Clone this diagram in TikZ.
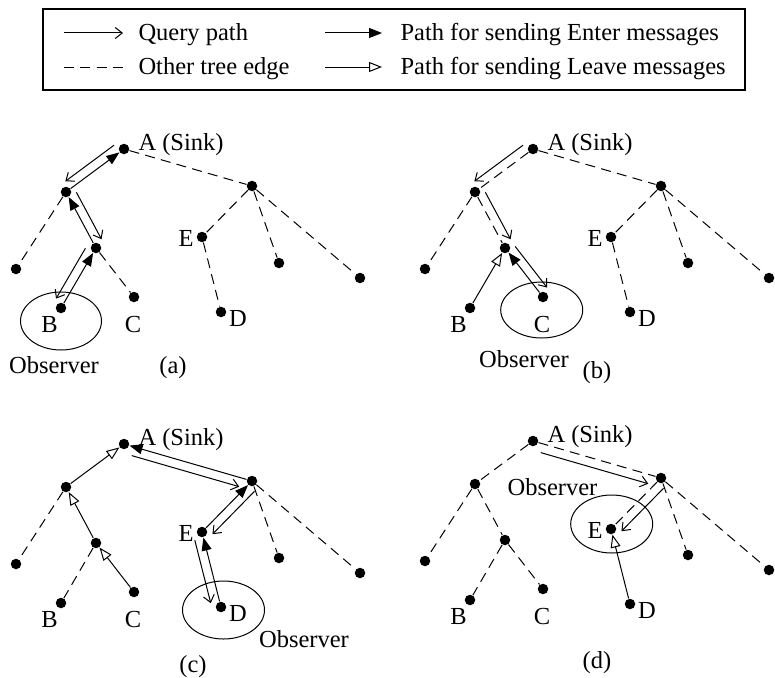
\documentclass[tikz,border=0pt]{standalone}
\usepackage{fontspec}
\setmainfont{Liberation Serif}
\usetikzlibrary{calc,arrows.meta}

% query path drawn beside a tree edge
\newcommand{\qline}[3]{%
  \draw[query] ($(#1)!0.08!(#2)!9pt!#3:(#2)$) -- ($(#1)!0.92!(#2)!9pt!#3:(#2)$);}

\begin{document}
\begin{tikzpicture}[
        x=1pt, y=-1pt, line width=1pt,
        font=\fontsize{24.5}{29}\selectfont,
        dot/.style={circle, fill, inner sep=0pt, minimum size=10.5pt},
        lbl/.style={inner sep=0pt},
        treeedge/.style={dash pattern=on 10pt off 6.3pt},
        query/.style={-{Straight Barb[length=7pt,width=11pt]}},
        enter/.style={-{Triangle[length=13pt,width=10pt]}},
        leave/.style={-{Triangle[open,length=13pt,width=10pt]}}
        ]
        \useasboundingbox (0,0) rectangle (775,677);

        % Leyenda
        \draw[line width=1.2pt] (43,9) rectangle (745,90);
        \coordinate (q1) at (64,33);  \coordinate (q2) at (123,33);
        \coordinate (o1) at (64,67);  \coordinate (o2) at (123,67);
        \coordinate (e1) at (325,33); \coordinate (e2) at (382,33);
        \coordinate (l1) at (325,67); \coordinate (l2) at (382,67);
        \draw[query] (q1) -- (q2);
        \draw[treeedge] (o1) -- (o2);
        \draw[enter] (e1) -- (e2);
        \draw[leave] (l1) -- (l2);
        \node[lbl, anchor=base west] (tquery) at (138,40.5) {Query path};
        \node[lbl, anchor=base west] (tother) at (138,74.5) {Other tree edge};
        \node[lbl, anchor=base west] (tenter) at (400,40.5) {Path for sending Enter messages};
        \node[lbl, anchor=base west] (tleave) at (400,74.5) {Path for sending Leave messages};

        % Los cuatro arboles
        \foreach \p/\dx/\dy in {a/0/0, b/409/0, c/0/295, d/409/292}{
          \begin{scope}[shift={(\dx,\dy)}]
            \node[dot] (\p-sink) at (124,149) {};
            \node[dot] (\p-n1) at (66,192) {};
            \node[dot] (\p-r) at (252,186) {};
            \node[dot] (\p-l1) at (16,269) {};
            \node[dot] (\p-n2) at (96,248) {};
            \node[dot] (\p-b) at (61,308) {};
            \node[dot] (\p-c) at (134,297) {};
            \node[dot] (\p-e) at (202,237) {};
            \node[dot] (\p-d) at (221,312) {};
            \node[dot] (\p-r2) at (279,263) {};
            \node[dot] (\p-r3) at (360,278) {};
            \node[lbl, anchor=base west] (\p-tsink) at (138,150.5) {A (Sink)};
            \node[lbl, anchor=base] (\p-tb) at (49.5,332) {B};
            \node[lbl, anchor=base] (\p-tc) at (133,332) {C};
            \node[lbl, anchor=base] (\p-te) at (186,246) {E};
            \node[lbl, anchor=base] (\p-td) at (238,326) {D};
          \end{scope}
        }

        % (a)
        \draw[treeedge] (a-sink) -- (a-r);
        \draw[treeedge] (a-n1) -- (a-l1);
        \draw[treeedge] (a-n2) -- (a-c);
        \draw[treeedge] (a-r) -- (a-e);
        \draw[treeedge] (a-e) -- (a-d);
        \draw[treeedge] (a-r) -- (a-r2);
        \draw[treeedge] (a-r) -- (a-r3);
        \draw[enter] (a-b) -- (a-n2);
        \draw[enter] (a-n2) -- (a-n1);
        \draw[enter] (a-n1) -- (a-sink);
        \qline{a-sink}{a-n1}{-90}
        \qline{a-n1}{a-n2}{90}
        \qline{a-n2}{a-b}{-90}
        \draw (61,321) ellipse [x radius=40.5pt, y radius=29pt];
        \node[lbl, anchor=base] (a-obs) at (54,373) {Observer};
        \node[lbl, anchor=base] (a-cap) at (173,373) {(a)};

        % (b)
        \draw[treeedge] (b-sink) -- (b-n1);
        \draw[treeedge] (b-sink) -- (b-r);
        \draw[treeedge] (b-n1) -- (b-l1);
        \draw[treeedge] (b-n1) -- (b-n2);
        \draw[treeedge] (b-r) -- (b-e);
        \draw[treeedge] (b-e) -- (b-d);
        \draw[treeedge] (b-r) -- (b-r2);
        \draw[treeedge] (b-r) -- (b-r3);
        \draw[leave] (b-b) -- (b-n2);
        \draw[enter] (b-c) -- (b-n2);
        \qline{b-sink}{b-n1}{-90}
        \qline{b-n1}{b-n2}{90}
        \qline{b-n2}{b-c}{90}
        \draw (541.7,310) ellipse [x radius=41pt, y radius=28pt];
        \node[lbl, anchor=base] (b-obs) at (524,367) {Observer};
        \node[lbl, anchor=base] (b-cap) at (597,378) {(b)};

        % (c)
        \draw[treeedge] (c-n1) -- (c-l1);
        \draw[treeedge] (c-n2) -- (c-b);
        \draw[treeedge] (c-r) -- (c-r2);
        \draw[treeedge] (c-r) -- (c-r3);
        \draw[leave] (c-c) -- (c-n2);
        \draw[leave] (c-n2) -- (c-n1);
        \draw[leave] (c-n1) -- (c-sink);
        \draw[enter] (c-d) -- (c-e);
        \draw[enter] (c-e) -- (c-r);
        \draw[enter] (c-r) -- (c-sink);
        \qline{c-sink}{c-r}{-90}
        \qline{c-r}{c-e}{90}
        \qline{c-e}{c-d}{-90}
        \draw (223.5,610) ellipse [x radius=41pt, y radius=29pt];
        \node[lbl, anchor=base] (c-obs) at (304,647.5) {Observer};
        \node[lbl, anchor=base] (c-cap) at (193,672) {(c)};

        % (d)
        \draw[treeedge] (d-sink) -- (d-n1);
        \draw[treeedge] (d-n1) -- (d-l1);
        \draw[treeedge] (d-n1) -- (d-n2);
        \draw[treeedge] (d-n2) -- (d-b);
        \draw[treeedge] (d-n2) -- (d-c);
        \draw[treeedge] (d-sink) -- (d-r);
        \draw[treeedge] (d-r) -- (d-e);
        \draw[treeedge] (d-r) -- (d-r2);
        \draw[treeedge] (d-r) -- (d-r3);
        \draw[leave] (d-d) -- (d-e);
        \qline{d-sink}{d-r}{-90}
        \qline{d-r}{d-e}{90}
        \draw (611.7,524) ellipse [x radius=41pt, y radius=29pt];
        \node[lbl, anchor=base] (d-obs) at (552.5,495) {Observer};
        \node[lbl, anchor=base] (d-cap) at (597,668.5) {(d)};
\end{tikzpicture}
\end{document}
